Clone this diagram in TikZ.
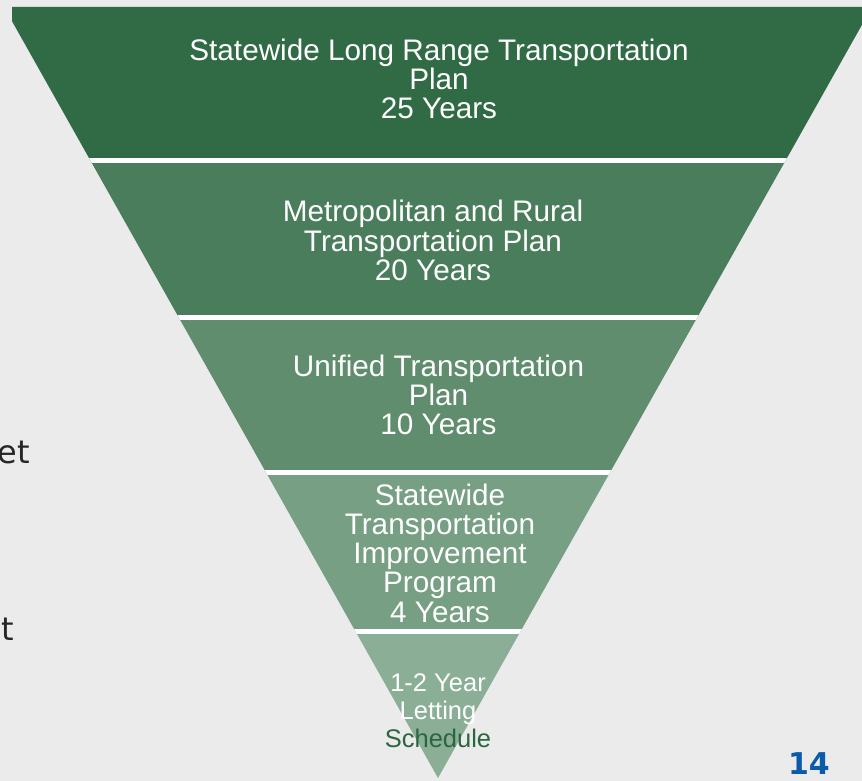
\documentclass[tikz,border=0pt]{standalone}
\usepackage{fontspec}
\setmainfont{Liberation Sans}
\newfontfamily\verdanalike{DejaVu Sans}
\definecolor{bgc}{HTML}{EBEBEB}
\definecolor{bandA}{HTML}{316B46}
\definecolor{bandB}{HTML}{4A7D5C}
\definecolor{bandC}{HTML}{5F8D6E}
\definecolor{bandD}{HTML}{769F83}
\definecolor{bandE}{HTML}{8BAF96}
\definecolor{darkgreen}{HTML}{2A6640}
\definecolor{pageblue}{HTML}{0B5BAA}
\tikzset{
  lbl/.style={align=center, inner sep=0pt, text=white, font=\fontsize{29.7}{29.3}\selectfont},
  lblsmall/.style={align=center, inner sep=0pt, text=white, font=\fontsize{25.5}{28}\selectfont},
  gapline/.style={white, line width=4.5pt},
  sidetxt/.style={inner sep=0pt, anchor=base east, text=black!85, font=\verdanalike\fontsize{32}{36}\selectfont},
}
\begin{document}
\begin{tikzpicture}[x=1pt,y=-1pt]
\useasboundingbox (0,0) rectangle (862,781);
\fill[bgc] (0,0) rectangle (862,781);
\begin{scope}
  \clip (12,0) rectangle (862,781);
  \clip (4,7) -- (872,7) -- (438,778) -- cycle;
  \fill[bandA] (0,0) rectangle (880,160.5);
  \fill[bandB] (0,160.5) rectangle (880,317.5);
  \fill[bandC] (0,317.5) rectangle (880,472.5);
  \fill[bandD] (0,472.5) rectangle (880,631.5);
  \fill[bandE] (0,631.5) rectangle (880,781);
  \draw[gapline] (0,160.5) -- (880,160.5);
  \draw[gapline] (0,317.5) -- (880,317.5);
  \draw[gapline] (0,472.5) -- (880,472.5);
  \draw[gapline] (0,631.5) -- (880,631.5);
\end{scope}
\node[lbl] (b1) at (439,79) {Statewide Long Range Transportation\\Plan\\25 Years};
\node[lbl] (b2) at (433,240.5) {Metropolitan and Rural\\Transportation Plan\\20 Years};
\node[lbl] (b3) at (438.5,395) {Unified Transportation\\Plan\\10 Years};
\node[lbl] (b4) at (440,553) {Statewide\\Transportation\\Improvement\\Program\\4 Years};
\node[lblsmall] (b5) at (438,711) {1-2 Year\\Letting\\\textcolor{darkgreen}{Schedule}};
\node[sidetxt] (s1) at (30,463) {et};
\node[sidetxt] (s2) at (14,640) {t};
\node[inner sep=0pt, anchor=base east, text=pageblue, font=\verdanalike\bfseries\fontsize{30}{34}\selectfont] (pg) at (830,774) {14};
\end{tikzpicture}
\end{document}
